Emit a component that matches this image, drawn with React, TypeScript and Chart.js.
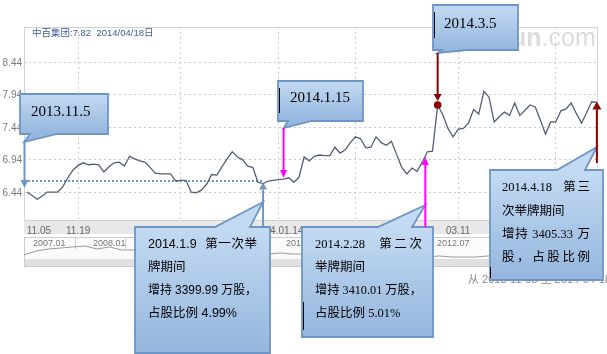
import React, { useEffect, useRef } from "react";
import { Chart, registerables } from "chart.js";

Chart.register(...registerables);

// ---------- data ----------
const prices = [
  6.44, 6.39, 6.33, 6.38, 6.44, 6.44, 6.44, 6.52, 6.66, 6.78,
  6.85, 6.89, 6.86, 6.87, 6.86, 6.75, 6.83, 6.89, 6.90, 6.84,
  6.99, 6.95, 6.92, 6.90, 6.82, 6.73, 6.72, 6.72, 6.72, 6.61,
  6.62, 6.62, 6.44, 6.43, 6.47, 6.56, 6.71, 6.70, 6.83, 6.95,
  7.06, 6.98, 6.94, 6.84, 6.82, 6.59, 6.57, 6.61, 6.62, 6.63,
  6.64, 6.66, 6.59, 6.67, 6.98, 6.92, 6.99, 7.01, 7.00, 7.00,
  7.13, 7.04, 7.09, 7.20, 7.29, 7.26, 7.12, 7.13, 7.29, 7.20,
  7.16, 7.22, 7.02, 6.82, 6.72, 6.81, 6.76, 6.90, 7.06, 7.07,
  7.78, 7.63, 7.42, 7.29, 7.41, 7.42, 7.50, 7.71, 7.64, 7.99,
  7.90, 7.52, 7.60, 7.67, 7.62, 7.81, 7.62, 7.70, 7.78, 7.75,
  7.55, 7.33, 7.52, 7.52, 7.69, 7.72, 7.81, 7.65, 7.50, 7.66,
  7.83, 7.82,
];
const yTickValues = [6.44, 6.94, 7.44, 7.94, 8.44];
const yTickLabels = ["6.44", "6.94", "7.44", "7.94", "8.44"];
const xGridIndex = [10, 30, 49, 64, 84, 103];
const xTickIndex = [0, 10, 30, 49, 64, 84, 103];
const xTickLabels = ["11.05", "11.19", "12.17", "2014.01.14", "02.11", "03.11", "04.08"];
const navLabels = ["2007.01", "2008.01", "2010.07", "2012.07"];
// long-history overview line in the navigator strip (2007 – 2014)
const navValues = [
  6.5, 9.8, 11.5, 12.3, 13.2, 14.0, 11.5, 13.2, 10.7, 10.7,
  9.8, 9.0, 8.2, 9.0, 8.2, 7.3, 8.2, 9.0, 8.2, 8.2,
  7.3, 8.2, 7.3, 7.3, 8.2, 7.3, 6.5, 6.5, 5.7, 6.5,
  5.7, 5.7, 4.8, 4.8, 5.7, 4.8, 4.8, 4.8, 5.7, 5.7,
  5.7, 5.7, 6.5, 6.5, 5.7, 5.7, 6.5, 6.5,
];
const refLevel = 6.61;
const refEndIndex = 46;
const eventIdx = { nov5: 0, jan9: 46, jan15: 50, feb28: 77.6, mar5: 80, apr18: 111 };
const titleText = "中百集团:7.82  2014/04/18日";
const rangeText = "从 2013-11-05 至 2014-04-18";
const box4Lines = ["2014.1.9  第一次举", "牌期间", "增持 3399.99 万股，", "占股比例 4.99%"];
const box5Lines = ["2014.2.28  第二次", "举牌期间", "增持 3410.01 万股，", "占股比例 5.01%"];
const box6Lines = ["2014.4.18  第三", "次举牌期间", "增持 3405.33 万", "股，占股比例"];
const justify = [true, false, true, false];
const justify6 = [true, false, true, true];

// ---------- layout ----------
const X_MIN = -0.545;
const X_MAX = 111.22;
const Y_MIN = 6.01;
const Y_MAX = 8.98;
const PLOT_TOP = 27;
const PLOT_BOTTOM = 220;
// navigator strip: value NAV_LO sits at pixel NAV_Y_LO, NAV_HI at NAV_Y_HI
const NAV_LO = 4;
const NAV_HI = 14;
const NAV_Y_LO = 258;
const NAV_Y_HI = 246;
const navRange = ((NAV_HI - NAV_LO) * (PLOT_BOTTOM - PLOT_TOP)) / (NAV_Y_LO - NAV_Y_HI);
const navMin = NAV_LO + ((NAV_Y_LO - PLOT_BOTTOM) / (PLOT_BOTTOM - PLOT_TOP)) * navRange;
const navMax = navMin + navRange;

const L = {
  nov5: { r: [20, 94, 108, 134], side: "bottom", b: [30, 57], tipY: 142 },
  jan15: { r: [278, 81, 363, 121], side: "bottom", b: [288, 312], tipY: 128 },
  mar5: { r: [433, 5, 518, 50], side: "bottom", b: [442, 467], tipY: 53 },
  jan9: { r: [135, 227, 270, 353], side: "top", b: [215, 250], tipY: 202 },
  feb28: { r: [302, 227, 433, 337], side: "top", b: [378, 412], tipY: 205 },
  apr18: { r: [490, 170, 603, 280], side: "top", b: [557, 585], tipY: 147 },
  navX: [33, 93, 286, 437],
};

const CJK = '"Noto Sans CJK SC"';
const isCJK = (c: string) => /[\u3000-\u9fff\uff00-\uffef]/.test(c);

function drawLine(ctx: CanvasRenderingContext2D, text: string, x: number, y: number, right: number | null) {
  if (right === null) {
    ctx.fillText(text, x, y);
    return;
  }
  const tokens: string[] = [];
  let run = "";
  for (const ch of text) {
    if (isCJK(ch) || ch === " ") {
      if (run) { tokens.push(run); run = ""; }
      tokens.push(ch);
    } else run += ch;
  }
  if (run) tokens.push(run);
  const widths = tokens.map((t) => ctx.measureText(t).width);
  const total = widths.reduce((s, w) => s + w, 0);
  const extra = (right - x - total) / Math.max(1, tokens.length - 1);
  if (extra < 0) {
    ctx.fillText(text, x, y, right - x);
    return;
  }
  let cx = x;
  tokens.forEach((t, i) => {
    ctx.fillText(t, cx, y);
    cx += widths[i] + extra;
  });
}

function callout(ctx: CanvasRenderingContext2D, box: any, tipX: number) {
  const [x0, y0, x1, y1] = box.r;
  const [b1, b2] = box.b;
  ctx.save();
  ctx.beginPath();
  if (box.side === "bottom") {
    ctx.moveTo(x0, y0); ctx.lineTo(x1, y0); ctx.lineTo(x1, y1);
    ctx.lineTo(b2, y1); ctx.lineTo(tipX, box.tipY); ctx.lineTo(b1, y1);
    ctx.lineTo(x0, y1); ctx.closePath();
  } else {
    ctx.moveTo(x0, y0); ctx.lineTo(b1, y0); ctx.lineTo(tipX, box.tipY); ctx.lineTo(b2, y0);
    ctx.lineTo(x1, y0); ctx.lineTo(x1, y1); ctx.lineTo(x0, y1); ctx.closePath();
  }
  const g = ctx.createLinearGradient(0, y0, 0, y1);
  g.addColorStop(0, "#c3daf2");
  g.addColorStop(1, "#95b6de");
  ctx.fillStyle = g;
  ctx.fill();
  ctx.lineWidth = 1.8;
  ctx.strokeStyle = "#6d95c6";
  ctx.lineJoin = "miter";
  ctx.stroke();
  ctx.restore();
}

function arrow(ctx: CanvasRenderingContext2D, x: number, yFrom: number, yTip: number, color: string, hw: number, hl: number) {
  const dir = yTip > yFrom ? 1 : -1;
  ctx.save();
  ctx.strokeStyle = color;
  ctx.fillStyle = color;
  ctx.lineWidth = 2;
  ctx.beginPath();
  ctx.moveTo(x, yFrom);
  ctx.lineTo(x, yTip - dir * hl);
  ctx.stroke();
  ctx.beginPath();
  ctx.moveTo(x - hw, yTip - dir * hl);
  ctx.lineTo(x + hw, yTip - dir * hl);
  ctx.lineTo(x, yTip);
  ctx.closePath();
  ctx.fill();
  ctx.restore();
}

function cursor(ctx: CanvasRenderingContext2D, x: number, y0: number, y1: number) {
  ctx.save();
  ctx.strokeStyle = "#000";
  ctx.lineWidth = 1;
  ctx.beginPath();
  ctx.moveTo(x + 0.5, y0);
  ctx.lineTo(x + 0.5, y1);
  ctx.stroke();
  ctx.restore();
}

const decor = {
  id: "decor",
  beforeDatasetsDraw(chart: any) {
    const ctx: CanvasRenderingContext2D = chart.ctx;
    const a = chart.chartArea;
    const xs = chart.scales.x;
    const px = (v: number) => xs.getPixelForValue(v);
    ctx.save();
    // watermark
    ctx.fillStyle = "#dcdcdc";
    ctx.textBaseline = "alphabetic";
    ctx.font = 'bold 25px "Liberation Sans", Arial, sans-serif';
    ctx.fillText("hexun", 468, 46);
    const w = ctx.measureText("hexun").width;
    ctx.font = '25px "Liberation Sans", Arial, sans-serif';
    ctx.fillText(".com", 468 + w, 46);

    // x-axis band
    ctx.fillStyle = "#e8e8e8";
    ctx.fillRect(a.left, a.bottom, a.right - a.left, 14);
    ctx.strokeStyle = "#c8c8c8";
    ctx.lineWidth = 1;
    ctx.beginPath();
    ctx.moveTo(a.left, a.bottom + 0.5);
    ctx.lineTo(a.right, a.bottom + 0.5);
    ctx.stroke();
    ctx.fillStyle = "#666";
    ctx.font = '10px "Liberation Sans", sans-serif';
    ctx.textBaseline = "middle";
    xTickIndex.forEach((idx, i) => {
      ctx.textAlign = i === 0 ? "left" : "center";
      ctx.fillText(xTickLabels[i], px(idx), a.bottom + 11);
    });

    // navigator frame
    ctx.fillStyle = "#fbfbfb";
    ctx.fillRect(a.left, 237, a.right - a.left, 30);
    ctx.fillStyle = "#e0e0e0";
    ctx.fillRect(a.left, 259, a.right - a.left, 8);
    ctx.strokeStyle = "#cccccc";
    ctx.strokeRect(a.left + 0.5, 237.5, a.right - a.left - 1, 29);
    ctx.fillStyle = "#777";
    ctx.font = '9px "Liberation Sans", sans-serif';
    ctx.textAlign = "left";
    navLabels.forEach((t, i) => ctx.fillText(t, L.navX[i], 244));
    ctx.strokeStyle = "#d0d0d0";
    [75, 125, 429].forEach((x) => {
      ctx.beginPath();
      ctx.moveTo(x + 0.5, 238);
      ctx.lineTo(x + 0.5, 249);
      ctx.stroke();
    });
    ctx.restore();
  },
  afterDraw(chart: any) {
    const ctx: CanvasRenderingContext2D = chart.ctx;
    const a = chart.chartArea;
    const xs = chart.scales.x;
    const ys = chart.scales.y;
    const px = (v: number) => xs.getPixelForValue(v);
    const py = (v: number) => ys.getPixelForValue(v);

    ctx.save();
    // plot frame
    ctx.strokeStyle = "#d2d2d2";
    ctx.lineWidth = 1;
    ctx.strokeRect(a.left + 0.5, a.top + 0.5, a.right - a.left - 1, a.bottom - a.top);

    // y labels
    ctx.fillStyle = "#7a7a7a";
    ctx.font = '10px "Liberation Sans", sans-serif';
    ctx.textAlign = "right";
    ctx.textBaseline = "middle";
    yTickValues.forEach((v, i) => ctx.fillText(yTickLabels[i], a.left - 2, py(v) + 1));

    // title
    ctx.textAlign = "left";
    ctx.fillStyle = "#3d5a98";
    ctx.font = `9.5px "Liberation Sans", ${CJK}`;
    ctx.fillText(titleText, 32, 33);

    // range text
    ctx.fillStyle = "#888";
    ctx.font = `11px "Liberation Sans", ${CJK}`;
    ctx.fillText(rangeText, 468, 280);
    ctx.restore();

    // callouts
    callout(ctx, L.nov5, a.left);
    callout(ctx, L.jan15, px(eventIdx.jan15));
    callout(ctx, L.mar5, px(eventIdx.mar5));
    callout(ctx, L.jan9, px(eventIdx.jan9));
    callout(ctx, L.feb28, px(eventIdx.feb28));
    callout(ctx, L.apr18, px(eventIdx.apr18));

    // callout texts
    ctx.save();
    ctx.fillStyle = "#000";
    ctx.textBaseline = "middle";
    ctx.textAlign = "left";
    ctx.font = '15px "Liberation Serif", serif';
    ctx.fillText("2013.11.5", 31, 112);
    ctx.fillText("2014.1.15", 290, 98);
    ctx.fillText("2014.3.5", 444, 24);

    ctx.font = `12.5px "Liberation Sans", ${CJK}`;
    box4Lines.forEach((t, i) => drawLine(ctx, t, 148, 245 + i * 23, justify[i] ? 257 : null));
    ctx.font = `12.5px "Liberation Serif", ${CJK}`;
    box5Lines.forEach((t, i) => drawLine(ctx, t, 315, 245 + i * 23, justify[i] ? 422 : null));
    box6Lines.forEach((t, i) => drawLine(ctx, t, 502, 188 + i * 23.3, justify6[i] ? 590 : null));
    ctx.restore();

    // arrows
    const blue = "#6d95c6";
    const magenta = "#ff00ff";
    const red = "#8b0000";
    arrow(ctx, a.left + 0.5, L.nov5.tipY, py(prices[eventIdx.nov5]) - 4, blue, 4, 8);
    arrow(ctx, px(eventIdx.jan9), L.jan9.r[1], py(prices[eventIdx.jan9]) - 1, blue, 4, 7);
    arrow(ctx, px(eventIdx.jan15), L.jan15.tipY, py(prices[eventIdx.jan15]) - 1, magenta, 3.5, 8);
    const f0 = Math.floor(eventIdx.feb28);
    const fr = eventIdx.feb28 - f0;
    const vFeb = prices[f0] + fr * (prices[f0 + 1] - prices[f0]);
    arrow(ctx, px(eventIdx.feb28), L.feb28.r[1], py(vFeb) + 1, magenta, 3.5, 8);
    const x5 = px(eventIdx.mar5);
    const y5 = py(prices[eventIdx.mar5]);
    arrow(ctx, x5, L.mar5.tipY, y5 - 4, red, 4, 7);
    ctx.save();
    ctx.fillStyle = red;
    ctx.beginPath();
    ctx.arc(x5, y5, 3.8, 0, Math.PI * 2);
    ctx.fill();
    ctx.restore();
    arrow(ctx, px(eventIdx.apr18), 163, py(prices[eventIdx.apr18]) - 1, red, 4.5, 8);

    // text cursors
    cursor(ctx, 279, 88, 113);
    cursor(ctx, 434, 12, 38);
    cursor(ctx, 303, 302, 330);
    cursor(ctx, 490, 267, 278);
  },
};

export default function App() {
  const ref = useRef<HTMLCanvasElement>(null);
  useEffect(() => {
    document.body.style.margin = "0";
    const canvas = ref.current;
    if (!canvas) return;
    const hidden = (min: number, max: number, pos: string) => ({
      type: "linear",
      display: false,
      position: pos,
      min,
      max,
    });
    const chart = new Chart(canvas, {
      type: "line",
      data: {
        datasets: [
          {
            data: prices.map((v, i) => ({ x: i, y: v })),
            borderColor: "#535d74",
            borderWidth: 1.3,
            pointRadius: 0,
            tension: 0,
            fill: false,
          },
          {
            data: [
              { x: X_MIN, y: refLevel },
              { x: refEndIndex, y: refLevel },
            ],
            borderColor: "#6d95c6",
            borderWidth: 2,
            borderDash: [2, 2],
            pointRadius: 0,
            fill: false,
          },
          {
            data: navValues.map((v, i) => ({ x: i, y: v })),
            xAxisID: "xn",
            yAxisID: "yn",
            borderColor: "#9a9a9a",
            borderWidth: 1,
            pointRadius: 0,
            tension: 0,
            fill: false,
            clip: false,
          },
        ],
      },
      options: {
        responsive: false,
        devicePixelRatio: 1,
        animation: false,
        events: [],
        layout: { autoPadding: false, padding: { left: 24, top: PLOT_TOP, right: 9, bottom: 354 - PLOT_BOTTOM } },
        plugins: { legend: { display: false }, tooltip: { enabled: false }, title: { display: false } },
        scales: {
          x: {
            type: "linear",
            min: X_MIN,
            max: X_MAX,
            afterBuildTicks: (s: any) => {
              s.ticks = xGridIndex.map((v) => ({ value: v }));
            },
            afterFit: (s: any) => {
              s.height = 0;
            },
            ticks: { display: false },
            grid: { color: "#cccccc", lineWidth: 1, drawTicks: false },
            border: { display: false, dash: [2, 3] },
          },
          y: {
            type: "linear",
            min: Y_MIN,
            max: Y_MAX,
            afterBuildTicks: (s: any) => {
              s.ticks = yTickValues.map((v) => ({ value: v }));
            },
            afterFit: (s: any) => {
              s.width = 0;
            },
            ticks: { display: false },
            grid: { color: "#cccccc", lineWidth: 1, drawTicks: false },
            border: { display: false, dash: [2, 3] },
          },
          xn: hidden(0, navValues.length - 1, "bottom"),
          yn: hidden(navMin, navMax, "left"),
        },
      } as any,
      plugins: [decor],
    });
    return () => chart.destroy();
  }, []);
  return (
    <div style={{ width: 607, height: 354, background: "#fff", overflow: "hidden" }}>
      <canvas ref={ref} width={607} height={354} style={{ display: "block", width: 607, height: 354 }} />
    </div>
  );
}
